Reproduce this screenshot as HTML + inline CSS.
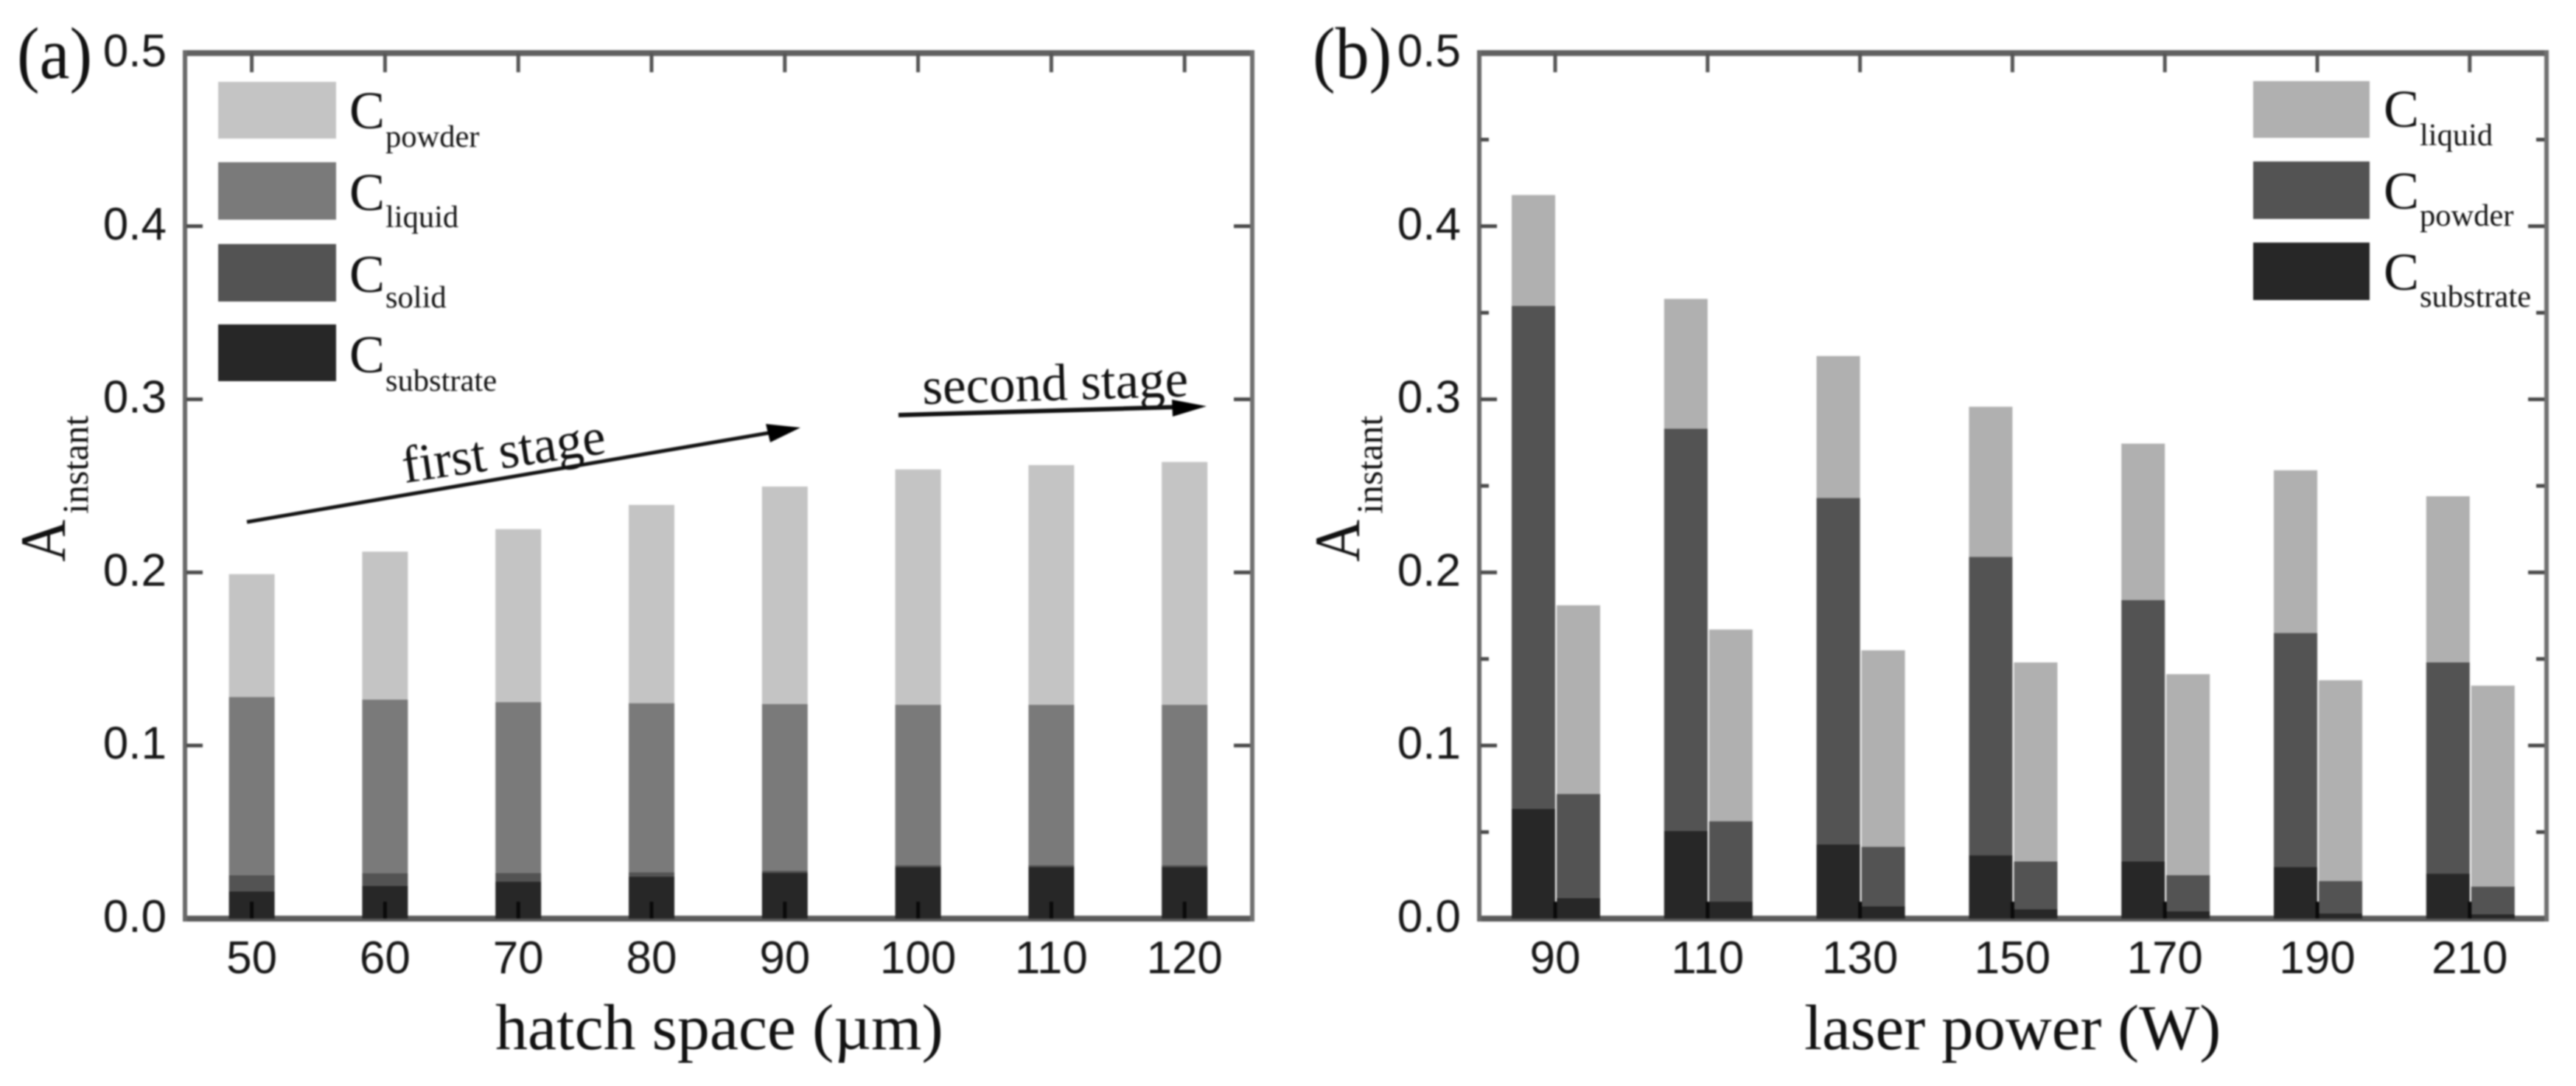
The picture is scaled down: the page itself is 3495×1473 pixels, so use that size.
<!DOCTYPE html>
<html lang="en">
<head>
<meta charset="utf-8">
<title>Instant absorptivity versus hatch space and laser power</title>
<style>
  html, body { margin: 0; padding: 0; background: #fff; }
  svg { display: block; filter: blur(1.1px); }
  .serif { font-family: "Liberation Serif", serif; fill: #111; }
  .sans { font-family: "Liberation Sans", sans-serif; fill: #161616; }
</style>
</head>
<body>
<svg id="chart" xmlns="http://www.w3.org/2000/svg" width="3495" height="1473" viewBox="0 0 3495 1473">
  <rect x="0" y="0" width="3495" height="1473" fill="#fff"/>
  <g id="marks"></g>

  <text class="serif" font-size="100" transform="translate(23,106) scale(.92,1)">(a)</text>
  <text class="serif" font-size="100" transform="translate(1781,106) scale(.92,1)">(b)</text>

  <text class="serif" font-size="88" x="672" y="1423">hatch space (µm)</text>
  <text class="serif" font-size="87" x="2448" y="1423">laser power (W)</text>

  <g>
    <text class="serif" font-size="88" transform="translate(88,762) rotate(-90) scale(.9,1)">A</text>
    <text class="serif" font-size="50" transform="translate(119,697) rotate(-90)">instant</text>
  </g>
  <g>
    <text class="serif" font-size="88" transform="translate(1844,762) rotate(-90) scale(.9,1)">A</text>
    <text class="serif" font-size="50" transform="translate(1875,697) rotate(-90)">instant</text>
  </g>

  <g>
    <g>
      <rect x="296" y="111" width="160" height="77" fill="#c4c4c4"/>
      <text class="serif" font-size="72" x="474" y="174">C</text>
      <text class="serif" font-size="42.5" x="523" y="199">powder</text>
    </g>
    <g>
      <rect x="296" y="220" width="160" height="78" fill="#7a7a7a"/>
      <text class="serif" font-size="72" x="474" y="285">C</text>
      <text class="serif" font-size="42.5" x="523" y="308">liquid</text>
    </g>
    <g>
      <rect x="296" y="331" width="160" height="78" fill="#535353"/>
      <text class="serif" font-size="72" x="474" y="396">C</text>
      <text class="serif" font-size="42.5" x="523" y="417">solid</text>
    </g>
    <g>
      <rect x="296" y="440" width="160" height="77" fill="#272727"/>
      <text class="serif" font-size="72" x="474" y="505">C</text>
      <text class="serif" font-size="42.5" x="523" y="530">substrate</text>
    </g>
  </g>

  <g>
    <g>
      <rect x="3057" y="110" width="158" height="77" fill="#b0b0b0"/>
      <text class="serif" font-size="72" x="3234" y="172">C</text>
      <text class="serif" font-size="42.5" x="3283" y="197">liquid</text>
    </g>
    <g>
      <rect x="3057" y="219" width="158" height="78" fill="#535353"/>
      <text class="serif" font-size="72" x="3234" y="283">C</text>
      <text class="serif" font-size="42.5" x="3283" y="306">powder</text>
    </g>
    <g>
      <rect x="3057" y="329" width="158" height="78" fill="#272727"/>
      <text class="serif" font-size="72" x="3234" y="393">C</text>
      <text class="serif" font-size="42.5" x="3283" y="416">substrate</text>
    </g>
  </g>

  <g>
    <line x1="335" y1="708" x2="1050" y2="586" stroke="#111" stroke-width="5"/>
    <polygon points="1086,580 1039,575 1045,600" fill="#000"/>
    <text class="serif" font-size="71" transform="translate(549,655) rotate(-8.4)">first stage</text>
  </g>
  <g>
    <line x1="1219" y1="563" x2="1600" y2="552" stroke="#111" stroke-width="6"/>
    <polygon points="1637,551 1590,542 1591,565" fill="#000"/>
    <text class="serif" font-size="71" transform="translate(1252,548) rotate(-1.7)">second stage</text>
  </g>
</svg>

<script>
// Panel (a) data
const hatchCategories = ["50", "60", "70", "80", "90", "100", "110", "120"];
const hatchSubstrate = [0.0158, 0.019, 0.0213, 0.0244, 0.0264, 0.0298, 0.0298, 0.0298];
const hatchSolid = [0.0094, 0.0072, 0.0052, 0.0024, 0.0014, 0.0012, 0.0012, 0.0012];
const hatchLiquid = [0.1028, 0.1003, 0.0985, 0.0977, 0.0962, 0.0925, 0.0925, 0.0925];
const hatchPowder = [0.071, 0.0855, 0.1, 0.1145, 0.1256, 0.136, 0.1385, 0.1403];

// Panel (b) data: first bar of each pair
const powerCategories = ["90", "110", "130", "150", "170", "190", "210"];
const powerFirstSubstrate = [0.0635, 0.0508, 0.0428, 0.0366, 0.033, 0.0298, 0.026];
const powerFirstPowder = [0.2905, 0.2322, 0.2002, 0.1724, 0.151, 0.1352, 0.122];
const powerFirstLiquid = [0.064, 0.075, 0.082, 0.0867, 0.0904, 0.094, 0.096];

// Panel (b) data: second bar of each pair
const powerSecondSubstrate = [0.012, 0.0098, 0.0072, 0.0055, 0.0043, 0.003, 0.0026];
const powerSecondPowder = [0.06, 0.0465, 0.0343, 0.0275, 0.0208, 0.0187, 0.0159];
const powerSecondLiquid = [0.109, 0.1107, 0.1135, 0.115, 0.1161, 0.116, 0.1161];

// Shared axis labels
const yTickLabels = ["0.0", "0.1", "0.2", "0.3", "0.4", "0.5"];
const yMinorValues = [0.05, 0.15, 0.25, 0.35, 0.45];

const NS = "http://www.w3.org/2000/svg";
const root = document.getElementById("marks");
const BASE_Y = 1246;
const PX_PER_UNIT = 2348;
function yScale(v) { return BASE_Y - v * PX_PER_UNIT; }
function xScaleA(i) { return 341.6 + i * 180.8; }
function xScaleB(i) { return 2110 + i * 206.8; }

function addRect(parent, x, y, w, h, fill, name) {
  const el = document.createElementNS(NS, "rect");
  el.setAttribute("x", x);
  el.setAttribute("y", y);
  el.setAttribute("width", w);
  el.setAttribute("height", h);
  el.setAttribute("fill", fill);
  
  
  parent.appendChild(el);
  return el;
}
function addText(parent, x, y, str, anchor, name) {
  const el = document.createElementNS(NS, "text");
  el.setAttribute("x", x);
  el.setAttribute("y", y);
  el.setAttribute("class", "sans");
  el.setAttribute("font-size", "62");
  el.setAttribute("text-anchor", anchor);
  
  
  el.textContent = str;
  parent.appendChild(el);
  return el;
}
function addGroup(name) {
  const g = document.createElementNS(NS, "g");
  
  
  root.appendChild(g);
  return g;
}

function drawFrame(prefix, left, right, showMinor) {
  const frame = addGroup(prefix + "-axes-frame");
  addRect(frame, left - 3, 68, right - left + 6, 8, "#606060", prefix + "-top-axis");
  addRect(frame, left - 3, 1242, right - left + 6, 8, "#5a5a5a", prefix + "-x-axis");
  addRect(frame, left - 3, 68, 6, 1182, "#686868", prefix + "-y-axis-left");
  addRect(frame, right - 3, 68, 6, 1182, "#707070", prefix + "-y-axis-right");
  yTickLabels.forEach(function (lab) {
    const v = parseFloat(lab);
    const y = yScale(v);
    if (v > 0 && v < 0.5) {
      addRect(frame, left + 2, y - 2.5, 22, 5, "#484848", prefix + "-y-tick-left-" + lab);
      addRect(frame, right - 25, y - 2.5, 22, 5, "#484848", prefix + "-y-tick-right-" + lab);
    }
    addText(frame, left - 25, y + 18, lab, "end", prefix + "-y-tick-label-" + lab);
  });
  if (showMinor) {
    yMinorValues.forEach(function (v) {
      const y = yScale(v);
      addRect(frame, left + 2, y - 2.5, 11, 5, "#484848", prefix + "-y-minor-tick-left");
      addRect(frame, right - 14, y - 2.5, 11, 5, "#484848", prefix + "-y-minor-tick-right");
    });
  }
}

function drawStack(parent, x, w, layers, baseName) {
  let cum = 0;
  layers.forEach(function (layer) {
    const top = yScale(cum + layer.value);
    const bottom = yScale(cum);
    addRect(parent, x, top, w, bottom - top, layer.color, baseName + "-" + layer.name);
    cum += layer.value;
  });
}

function drawXTicks(prefix, labels, xFn) {
  const g = addGroup(prefix + "-x-ticks");
  labels.forEach(function (lab, i) {
    const x = xFn(i);
    addRect(g, x - 2.5, 72, 5, 26, "#555555", prefix + "-top-tick-" + lab);
    addRect(g, x - 2.5, 1223, 5, 23, "#0a0a0a", prefix + "-x-tick-" + lab);
    addText(g, x, 1320, lab, "middle", prefix + "-x-tick-label-" + lab);
  });
}

// Panel (a)
drawFrame("panel-a", 251, 1699, false);
const barsA = addGroup("panel-a-bars");
hatchCategories.forEach(function (cat, i) {
  drawStack(barsA, xScaleA(i) - 31, 62, [
    { value: hatchSubstrate[i], color: "#272727", name: "substrate" },
    { value: hatchSolid[i], color: "#535353", name: "solid" },
    { value: hatchLiquid[i], color: "#7a7a7a", name: "liquid" },
    { value: hatchPowder[i], color: "#c4c4c4", name: "powder" }
  ], "bar-" + cat);
});
drawXTicks("panel-a", hatchCategories, xScaleA);

// Panel (b)
drawFrame("panel-b", 2007, 3455, true);
const barsB = addGroup("panel-b-bars");
powerCategories.forEach(function (cat, i) {
  const cx = xScaleB(i);
  drawStack(barsB, cx - 59, 59, [
    { value: powerFirstSubstrate[i], color: "#272727", name: "substrate" },
    { value: powerFirstPowder[i], color: "#535353", name: "powder" },
    { value: powerFirstLiquid[i], color: "#b0b0b0", name: "liquid" }
  ], "bar-first-" + cat);
  drawStack(barsB, cx + 2, 59, [
    { value: powerSecondSubstrate[i], color: "#272727", name: "substrate" },
    { value: powerSecondPowder[i], color: "#535353", name: "powder" },
    { value: powerSecondLiquid[i], color: "#b0b0b0", name: "liquid" }
  ], "bar-second-" + cat);
});
drawXTicks("panel-b", powerCategories, xScaleB);
</script>
</body>
</html>
